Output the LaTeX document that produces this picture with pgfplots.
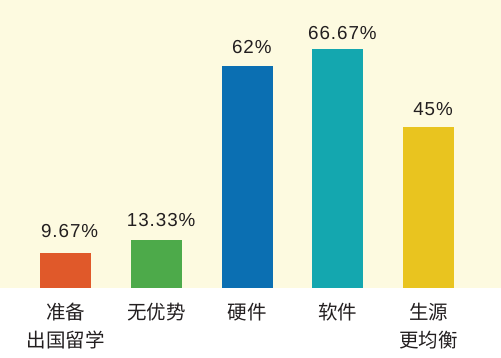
\documentclass[border=0pt]{standalone}
\usepackage{fontspec}
\setmainfont{Liberation Sans}
\newfontfamily\cjk{Noto Sans CJK SC}
\newfontfamily\pct[LetterSpace=5]{Liberation Sans}
\usepackage{pgfplots}
\pgfplotsset{compat=1.18}
\definecolor{cream}{HTML}{FDFAE0}
\definecolor{c1}{HTML}{E0592A}
\definecolor{c2}{HTML}{4DAA4A}
\definecolor{c3}{HTML}{0B6FB2}
\definecolor{c4}{HTML}{14A7AF}
\definecolor{c5}{HTML}{E9C41F}
\definecolor{txt}{HTML}{231F20}
\begin{document}
\begin{tikzpicture}
\path[use as bounding box] (0pt,-70pt) rectangle (501pt,288pt);
\begin{axis}[
  at={(0pt,0pt)}, anchor=south west,
  scale only axis, width=501pt, height=288pt,
  xmin=-0.728, xmax=4.80, ymin=0, ymax=80.45,
  axis line style={draw=none},
  axis background/.style={fill=cream},
  ytick=\empty,
  xtick={0,1,2,3,4},
  xticklabels={{准备\\出国留学},{无优势},{硬件},{软件},{生源\\更均衡}},
  major tick length=0pt,
  xticklabel style={anchor=north, inner sep=0pt, yshift=-15pt, align=center,
    font=\cjk\fontsize{19.5}{28}\selectfont, text=txt},
  clip=false,
]
\addplot[ybar, bar shift=0pt, bar width=51pt, fill=c1, draw=none] coordinates {(0,9.67)};
\addplot[ybar, bar shift=0pt, bar width=51pt, fill=c2, draw=none] coordinates {(1,13.33)};
\addplot[ybar, bar shift=0pt, bar width=51pt, fill=c3, draw=none] coordinates {(2,62)};
\addplot[ybar, bar shift=0pt, bar width=51pt, fill=c4, draw=none] coordinates {(3,66.67)};
\addplot[ybar, bar shift=0pt, bar width=51pt, fill=c5, draw=none] coordinates {(4,45)};
\addplot[draw=none, mark=none, nodes near coords, point meta=explicit symbolic,
  nodes near coords style={anchor=base, inner sep=0pt, font=\pct\fontsize{18.8}{20}\selectfont, text=txt}]
  table[meta=label] {
x y label
0.04 13.97 9.67\%
1.05 17.3 13.33\%
2.05 65.4 62\%
3.05 69.3 66.67\%
4.05 48.3 45\%
};
\end{axis}
\end{tikzpicture}
\end{document}
